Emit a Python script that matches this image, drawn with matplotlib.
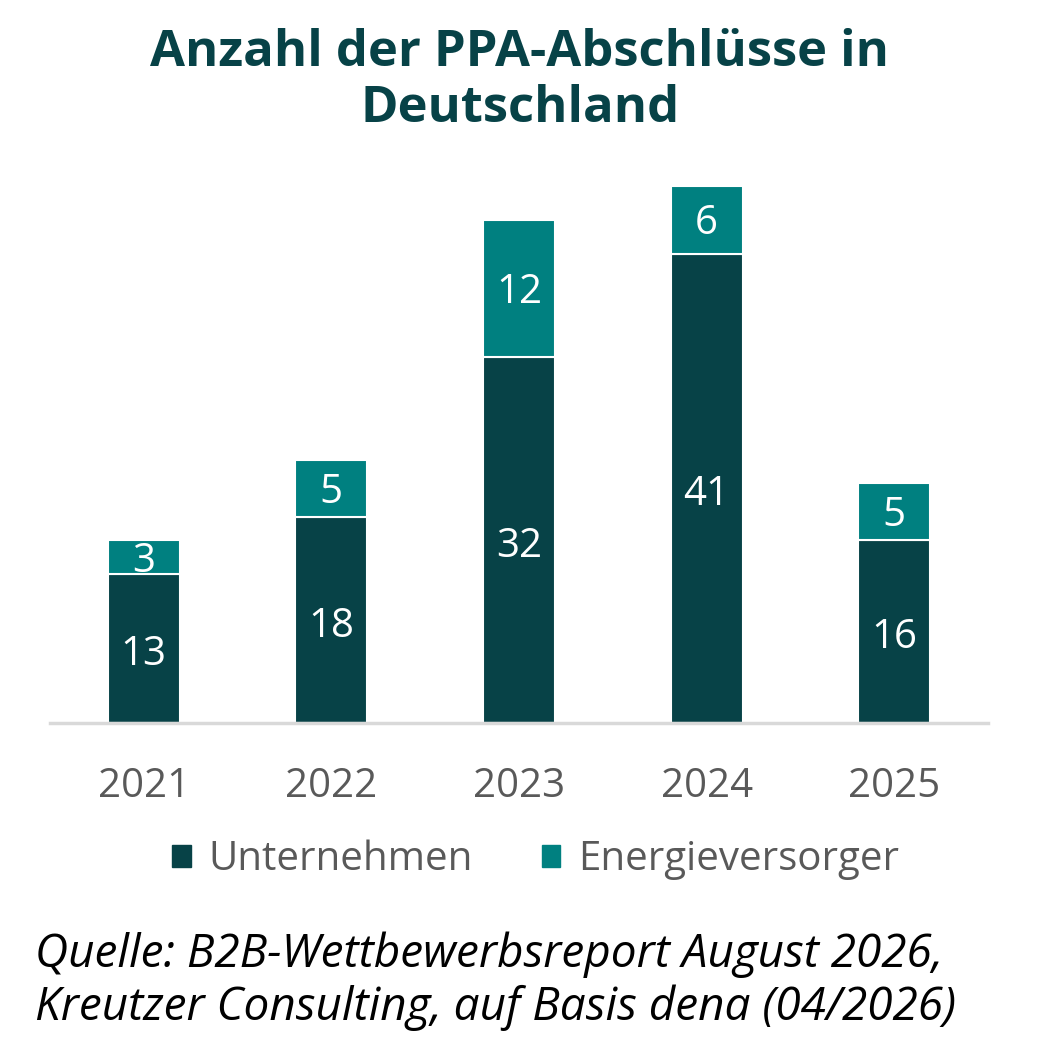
import numpy as np
import matplotlib
matplotlib.use('Agg')
import matplotlib.pyplot as plt
from matplotlib.patches import Patch

years = ['2021', '2022', '2023', '2024', '2025']
unternehmen = [13, 18, 32, 41, 16]
energieversorger = [3, 5, 12, 6, 5]

dark = '#074247'
teal = '#008080'
grey_txt = '#595959'

plt.rcParams['font.family'] = ['Open Sans', 'DejaVu Sans']

fig = plt.figure(figsize=(10.4, 10.64), dpi=100)
ax = fig.add_axes([0.048, 0.3205, 0.902, 0.5103])

x = np.arange(len(years))
w = 0.383
ax.bar(x, unternehmen, width=w, color=dark, edgecolor='white', linewidth=1.5)
ax.bar(x, energieversorger, width=w, bottom=unternehmen, color=teal,
       edgecolor='white', linewidth=1.5)

# Werte in die Balken schreiben (etwas nach unten versetzt)
for i in range(len(years)):
    ax.annotate(str(unternehmen[i]), (x[i], unternehmen[i] / 2), xytext=(0, -4.5),
                textcoords='offset points', ha='center', va='center',
                color='white', fontsize=29)
    ax.annotate(str(energieversorger[i]), (x[i], unternehmen[i] + energieversorger[i] / 2),
                xytext=(0, -3), textcoords='offset points', ha='center', va='center',
                color='white', fontsize=29)

ax.set_xlim(-0.5, 4.5)
ax.set_ylim(0, 47.5)
ax.set_yticks([])
ax.set_xticks(x)
ax.set_xticklabels(years, fontsize=29, color=grey_txt)
ax.tick_params(axis='x', length=0, pad=31)
for s in ['top', 'right', 'left']:
    ax.spines[s].set_visible(False)
ax.spines['bottom'].set_color('#d9d9d9')
ax.spines['bottom'].set_linewidth(2.5)

handles = [Patch(color=dark, label='Unternehmen'), Patch(color=teal, label='Energieversorger')]
fig.legend(handles=handles, loc='center', bbox_to_anchor=(0.515, 1 - 860 / 1064), ncol=2,
           frameon=False, fontsize=29, labelcolor=grey_txt, handlelength=0.45,
           handleheight=0.45, handletextpad=0.45, columnspacing=1.7)

fig.text(0.5, 1 - 53 / 1064, 'Anzahl der PPA-Abschlüsse in', ha='center', va='center',
         fontsize=36.5, fontweight='bold', color=dark)
fig.text(0.5, 1 - 109 / 1064, 'Deutschland', ha='center', va='center',
         fontsize=36.5, fontweight='bold', color=dark)

fig.text(35 / 1040, 1 - 955 / 1064, 'Quelle: B2B-Wettbewerbsreport August 2026,',
         ha='left', va='center', fontsize=33, style='italic', color='black')
fig.text(35 / 1040, 1 - 1008 / 1064, 'Kreutzer Consulting, auf Basis dena (04/2026)',
         ha='left', va='center', fontsize=33, style='italic', color='black')

fig.savefig('out.png', dpi=100)
